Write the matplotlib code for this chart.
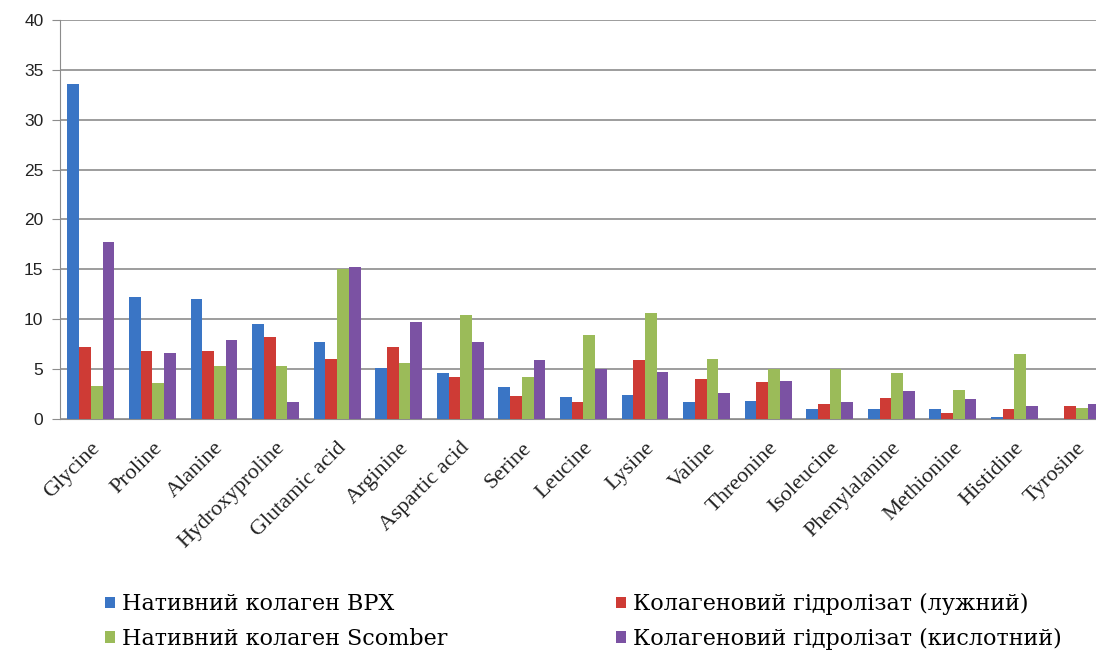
import numpy as np
import matplotlib.pyplot as plt

# Amino acid composition, g per 100 g protein
amino_acids = ['Glycine', 'Proline', 'Alanine', 'Hydroxyproline', 'Glutamic acid',
               'Arginine', 'Aspartic acid', 'Serine', 'Leucine', 'Lysine', 'Valine',
               'Threonine', 'Isoleucine', 'Phenylalanine', 'Methionine', 'Histidine',
               'Tyrosine']

native_bpx = [33.6, 12.2, 12.0, 9.5, 7.7, 5.1, 4.6, 3.2, 2.2, 2.4, 1.7, 1.8, 1.0, 1.0, 1.0, 0.2, 0.0]
hydrolysate_alkaline = [7.2, 6.8, 6.8, 8.2, 6.0, 7.2, 4.2, 2.3, 1.7, 5.9, 4.0, 3.7, 1.5, 2.1, 0.6, 1.0, 1.3]
native_scomber = [3.3, 3.6, 5.3, 5.3, 15.0, 5.6, 10.4, 4.2, 8.4, 10.6, 6.0, 5.0, 5.0, 4.6, 2.9, 6.5, 1.1]
hydrolysate_acid = [17.7, 6.6, 7.9, 1.7, 15.2, 9.7, 7.7, 5.9, 5.0, 4.7, 2.6, 3.8, 1.7, 2.8, 2.0, 1.3, 1.5]

series_names = ['Нативний колаген BPX', 'Колагеновий гідролізат (лужний)',
                'Нативний колаген Scomber', 'Колагеновий гідролізат (кислотний)']
colors = ['#3A75C5', '#CE3B35', '#9BBB59', '#7B52A3']

fig = plt.figure(figsize=(10.96, 6.56), dpi=100)
ax = fig.add_axes([0.0548, 0.3613, 0.955, 0.6082])

x = np.arange(len(amino_acids))
width = 0.19
all_series = [native_bpx, hydrolysate_alkaline, native_scomber, hydrolysate_acid]
bars = []
for i, (vals, col) in enumerate(zip(all_series, colors)):
    b = ax.bar(x + (i - 1.5) * width, vals, width, color=col, zorder=3)
    bars.append(b)

ax.set_xlim(-0.5, len(amino_acids) - 0.5)
ax.set_ylim(0, 40)
ax.set_yticks(range(0, 41, 5))
ax.yaxis.grid(True, color='#8c8c8c', linewidth=1.2, zorder=0)
ax.set_axisbelow(True)

for side in ['top', 'right']:
    ax.spines[side].set_visible(False)
ax.spines['left'].set_color('#8c8c8c')
ax.spines['bottom'].set_color('#8c8c8c')
ax.tick_params(axis='y', length=6, color='#8c8c8c', labelsize=12.5, pad=6)
ax.tick_params(axis='x', length=0, pad=14)
for lbl in ax.get_yticklabels():
    lbl.set_family('Liberation Sans')
    lbl.set_color('#222222')

ax.set_xticks(x)
ax.set_xticklabels(amino_acids, rotation=45, ha='right', rotation_mode='anchor',
                   family='Liberation Serif', fontsize=16, color='#222222')

handles = [bars[0], bars[2], bars[1], bars[3]]
labels = [series_names[0], series_names[2], series_names[1], series_names[3]]
fig.legend(handles, labels, ncol=2, loc='upper left', bbox_to_anchor=(0.078, 0.126),
           frameon=False, prop={'family': 'DejaVu Serif', 'size': 16},
           handlelength=0.45, handleheight=0.45, handletextpad=0.3,
           columnspacing=7.6, labelspacing=0.55)

fig.savefig('out.png', dpi=100)
